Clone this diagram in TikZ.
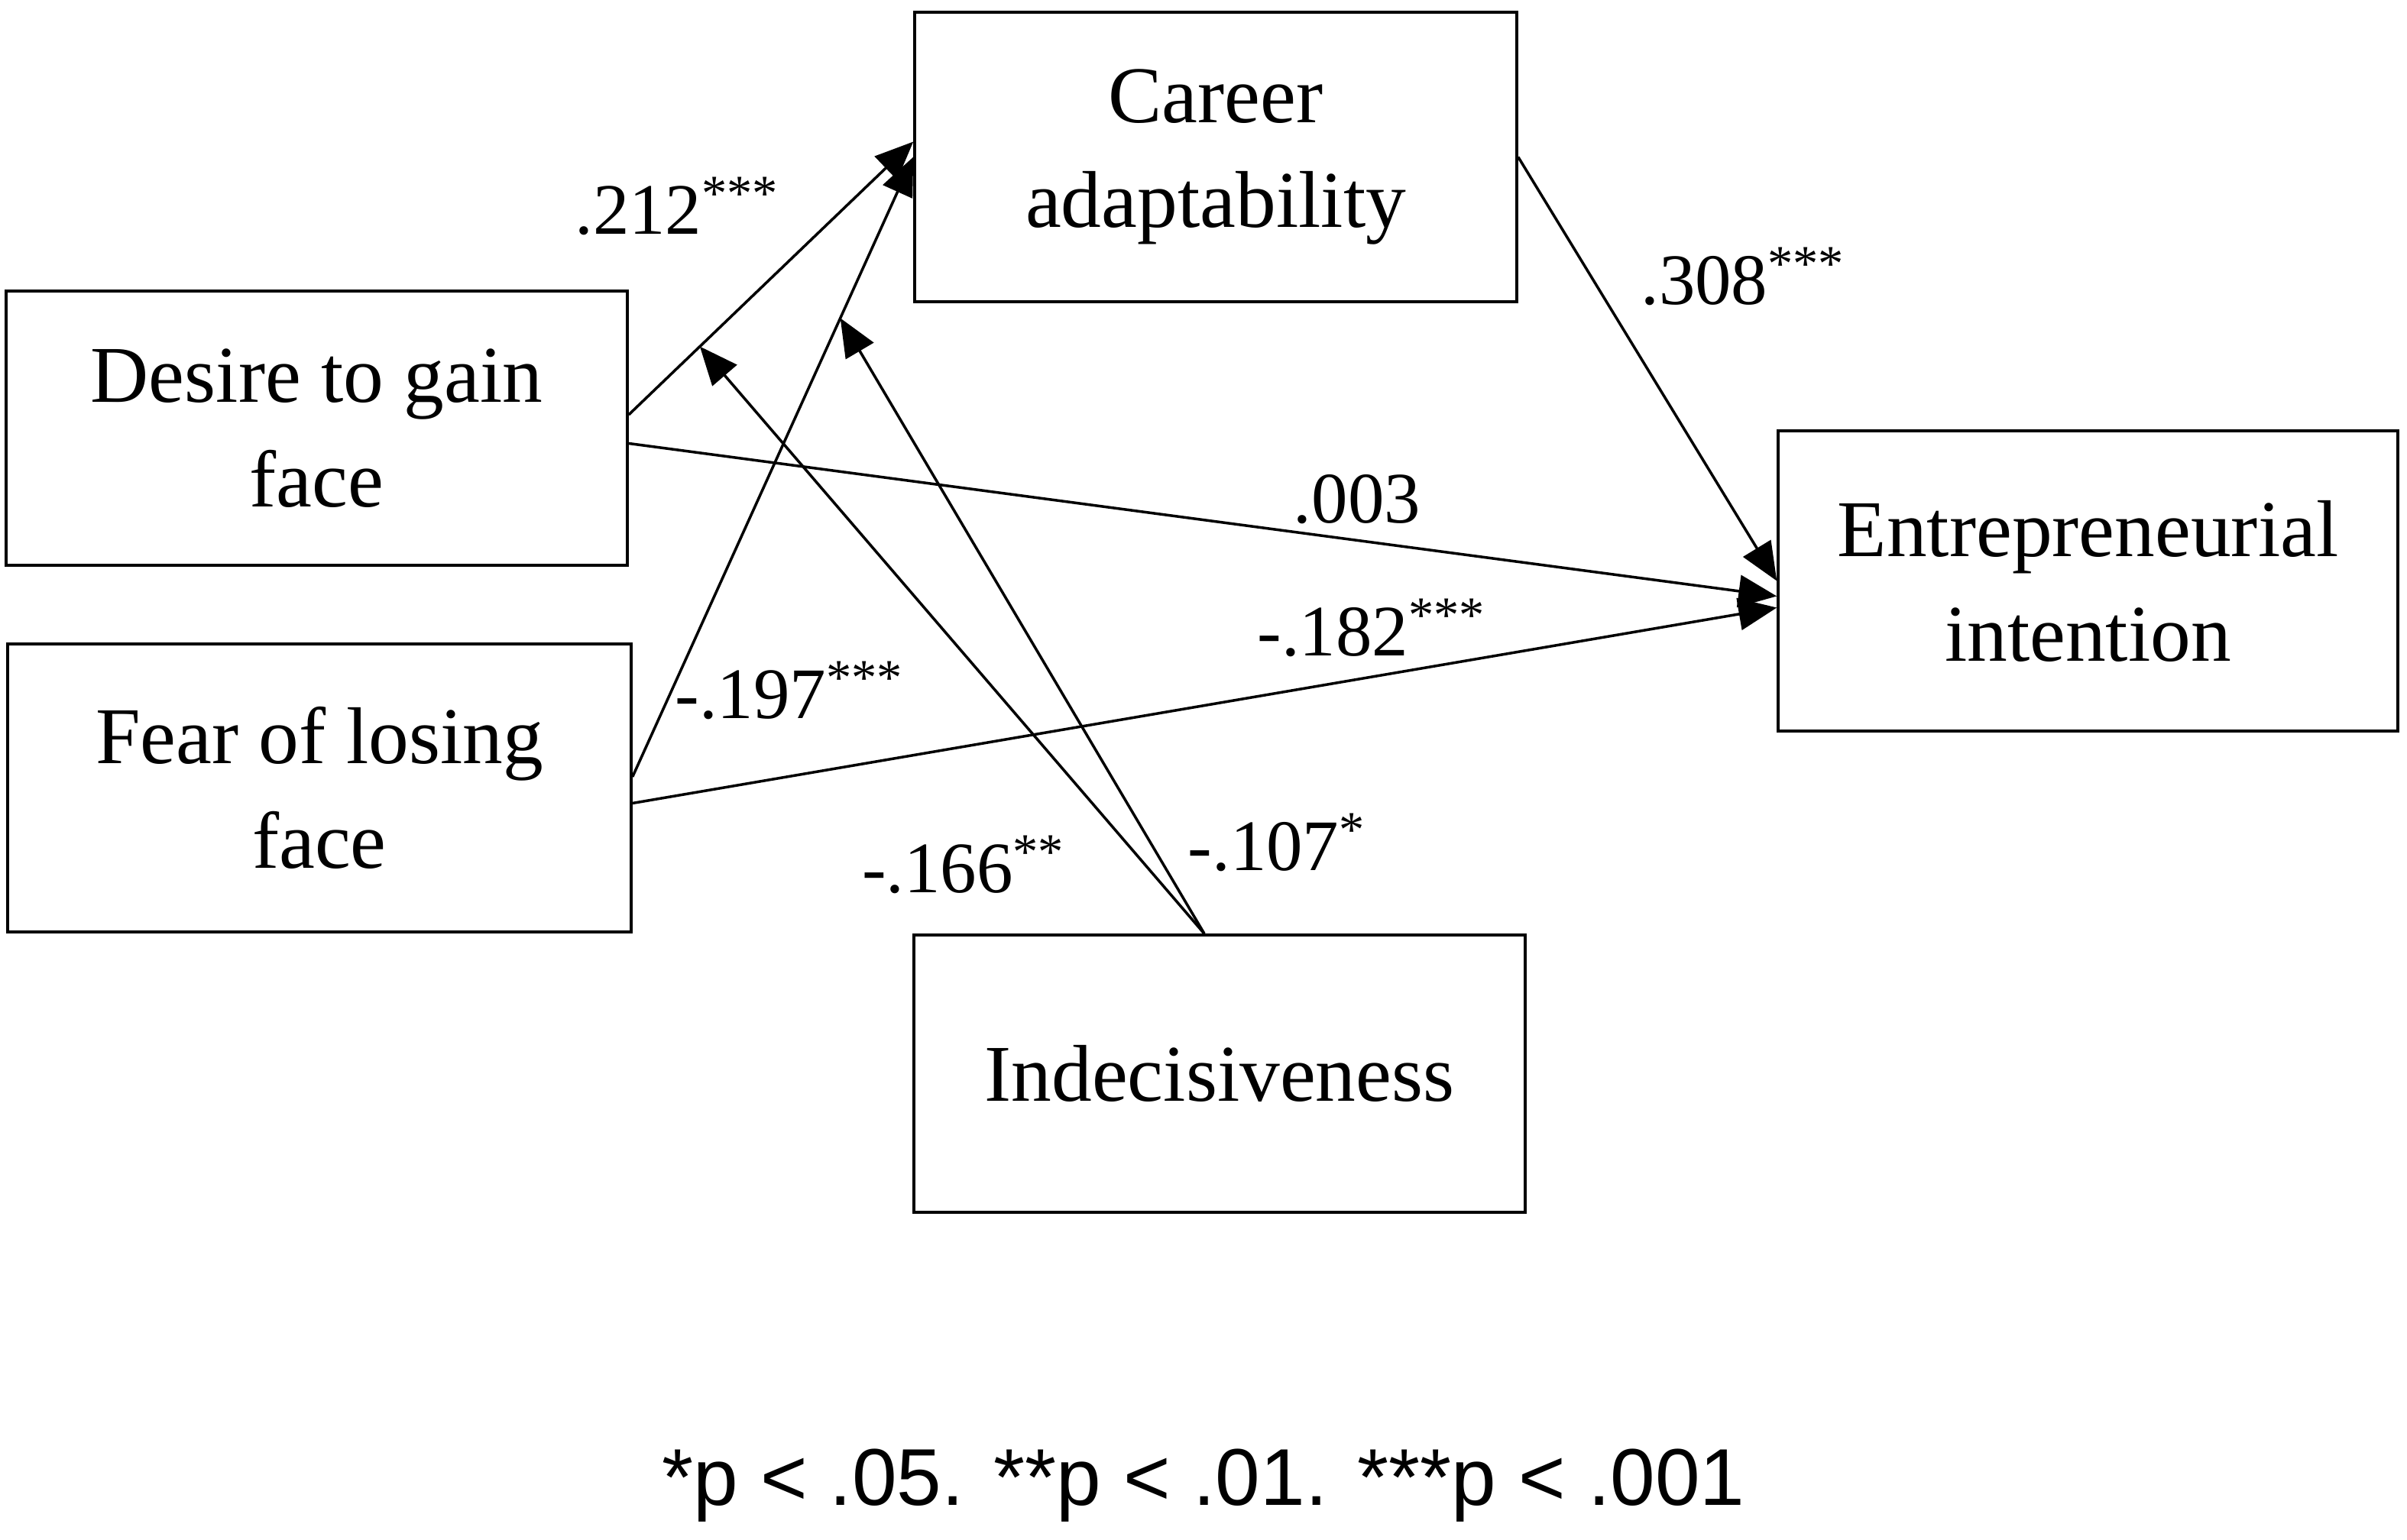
\documentclass[tikz,border=0pt]{standalone}
\usepackage{fontspec}
\setmainfont{Liberation Serif}
\newfontfamily\notefont{Liberation Sans}
\usetikzlibrary{arrows.meta}

\begin{document}
\begin{tikzpicture}
		[font=\fontsize{30}{39}\selectfont,
		 var/.style={rectangle,draw,line width=1pt,inner sep=0pt,align=center},
		 coef/.style={font=\fontsize{27}{30}\selectfont,inner sep=0pt},
		 effect/.style={->,line width=1pt,>={Triangle[length=5mm,width=4.2mm]}}]

		\useasboundingbox (0,0) rectangle (31.5,20.16);

		\node[var,minimum width=7.88cm,minimum height=3.79cm] (career) at (15.91,18.105) {Career\\adaptability};
		\node[var,minimum width=8.13cm,minimum height=3.59cm] (desire) at (4.145,14.555) {Desire to gain\\face};
		\node[var,minimum width=8.16cm,minimum height=3.77cm] (fear) at (4.18,9.845) {Fear of losing\\face};
		\node[var,minimum width=8.11cm,minimum height=3.93cm] (entre) at (27.325,12.555) {Entrepreneurial\\intention};
		\node[var,minimum width=8.0cm,minimum height=3.63cm] (indec) at (15.96,6.105) {Indecisiveness};

		\draw[effect] ([yshift=1.75mm]desire.east) -- coordinate[pos=0.25] (modDesire) ([yshift=2mm]career.west);
		\draw[effect] ([yshift=1.45mm]fear.east) -- coordinate[pos=0.74] (modFear) (career.west);
		\draw[effect] (career.east) -- (entre.west);
		\draw[effect] ([yshift=-2mm]desire.east) -- ([yshift=-2mm]entre.west);
		\draw[effect] ([yshift=-2mm]fear.east) -- ([yshift=-3.5mm]entre.west);
		\draw[effect] ([xshift=-2mm]indec.north) -- (modDesire);
		\draw[effect] ([xshift=-2mm]indec.north) -- (modFear);

		\node[coef] (c212) at (8.86,17.46) {.212\textsuperscript{***}};
		\node[coef] (c308) at (22.81,16.54) {.308\textsuperscript{***}};
		\node[coef] (c003) at (17.76,13.62) {.003};
		\node[coef] (c182) at (17.95,11.94) {-.182\textsuperscript{***}};
		\node[coef] (c197) at (10.33,11.12) {-.197\textsuperscript{***}};
		\node[coef] (c166) at (12.61,8.84) {-.166\textsuperscript{**}};
		\node[coef] (c107) at (16.71,9.13) {-.107\textsuperscript{*}};

		\node[font=\notefont\fontsize{30}{36}\selectfont] (note) at (15.75,0.71) {*p < .05. **p < .01. ***p < .001};
	\end{tikzpicture}
\end{document}
